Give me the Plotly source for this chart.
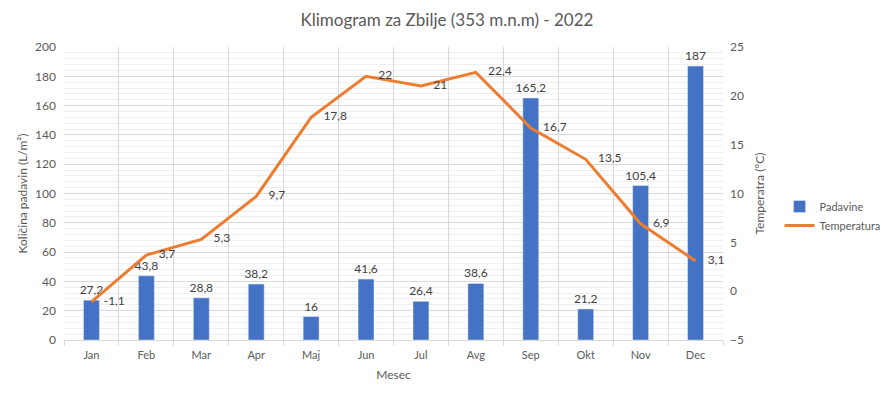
import plotly.graph_objects as go

months = ["Jan", "Feb", "Mar", "Apr", "Maj", "Jun", "Jul", "Avg", "Sep", "Okt", "Nov", "Dec"]
padavine = [27.2, 43.8, 28.8, 38.2, 16, 41.6, 26.4, 38.6, 165.2, 21.2, 105.4, 187]
temperatura = [-1.1, 3.7, 5.3, 9.7, 17.8, 22, 21, 22.4, 16.7, 13.5, 6.9, 3.1]

def fmt(v):
    s = ("%g" % v)
    return s.replace(".", ",")

FONT = "Lato"
GREY = "#595959"
LBL = "#404040"

fig = go.Figure()
fig.add_trace(go.Bar(
    x=months, y=padavine, name="Padavine",
    marker_color="#4472C4", width=0.29,
    text=[fmt(v) for v in padavine], textposition="outside",
    constraintext="none",
    textfont=dict(size=12, color=LBL, family=FONT),
    cliponaxis=False,
))
fig.add_trace(go.Scatter(
    x=months, y=temperatura, name="Temperatura", yaxis="y2",
    mode="lines+markers+text", line=dict(color="#ED7D31", width=3),
    marker=dict(size=18, color="rgba(0,0,0,0)"),
    text=[fmt(v) for v in temperatura], textposition="middle right",
    textfont=dict(size=12, color=LBL, family=FONT),
    cliponaxis=False,
))

fig.update_layout(
    width=894, height=397,
    paper_bgcolor="white", plot_bgcolor="white",
    font=dict(family=FONT, size=12, color=GREY),
    title=dict(text="Klimogram za Zbilje (353 m.n.m) - 2022", x=0.5, xanchor="center",
               y=1 - 20 / 397, yanchor="middle", font=dict(size=17, color=GREY, family=FONT)),
    margin=dict(l=64, r=171, t=47, b=57),
    bargap=0.7,
    showlegend=True,
    legend=dict(xref="container", yref="container", x=0.872, y=1 - 216 / 397,
                xanchor="left", yanchor="middle",
                font=dict(size=11, color=GREY)),
    xaxis=dict(
        title=dict(text="Mesec", font=dict(size=12, color=GREY), standoff=10),
        automargin=False,
        range=[-0.5, len(months) - 0.5],
        tickson="boundaries", ticks="outside", ticklen=5, tickcolor="#d9d9d9",
        ticklabelstandoff=5,
        showgrid=True, gridcolor="#d9d9d9", gridwidth=1,
        showline=True, linecolor="#d9d9d9",
        tickfont=dict(size=11, color=GREY),
    ),
    yaxis=dict(
        title=dict(text="Količina padavin (L/m²)", font=dict(size=12, color=GREY), standoff=4),
        automargin=False,
        range=[0, 200], dtick=20, tick0=0,
        ticklabelstandoff=7,
        showgrid=True, gridcolor="#d9d9d9", gridwidth=1,
        minor=dict(dtick=4, showgrid=True, gridcolor="#efefef", gridwidth=1),
        zeroline=False, tickfont=dict(size=12, color=GREY),
        showline=False,
    ),
    yaxis2=dict(
        title=dict(text="Temperatra (°C)", font=dict(size=12, color=GREY), standoff=12),
        automargin=False,
        overlaying="y", side="right",
        range=[-5, 25], dtick=5, tick0=-5,
        ticklabelstandoff=6,
        showgrid=False, zeroline=False,
        tickfont=dict(size=12, color=GREY),
    ),
)

fig.write_html("out.html", config={"displayModeBar": False},
               post_script="document.body.style.margin='0';document.body.style.overflow='hidden';")
